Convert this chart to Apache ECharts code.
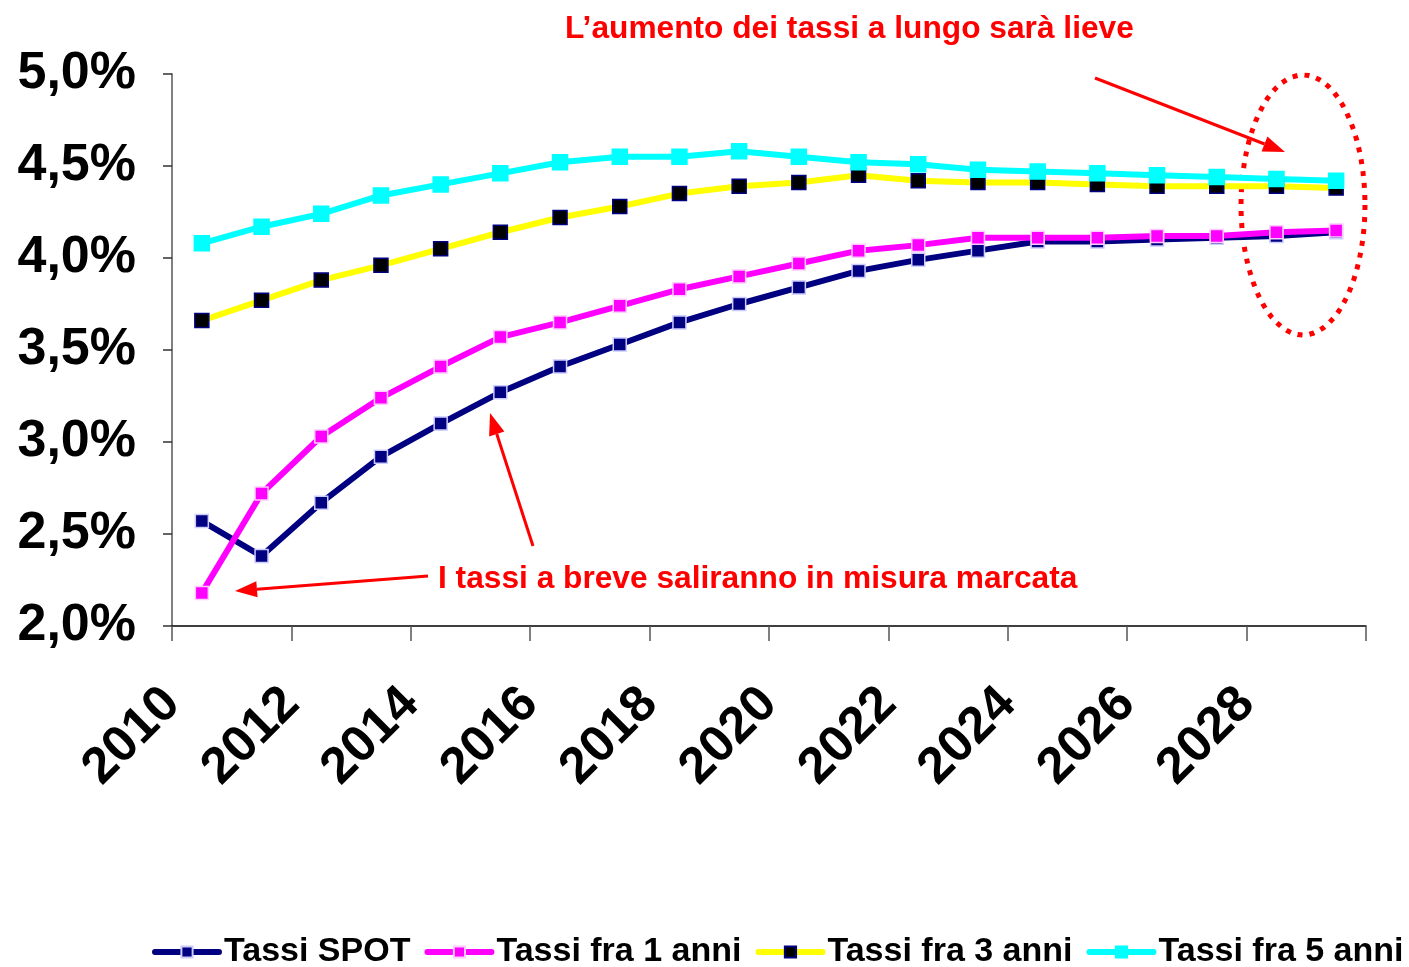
<!DOCTYPE html>
<html>
<head>
<meta charset="utf-8">
<script src="https://cdn.jsdelivr.net/npm/echarts@6/dist/echarts.min.js"></script>
<style>
  html, body { margin: 0; background: #fff; }
  #chart { width: 1409px; height: 967px; }
</style>
</head>
<body>
<div id="chart"></div>
<script>
const years = ['2010', '2011', '2012', '2013', '2014', '2015', '2016', '2017', '2018', '2019',
  '2020', '2021', '2022', '2023', '2024', '2025', '2026', '2027', '2028', '2029'];

const spot = [2.57, 2.38, 2.67, 2.92, 3.10, 3.27, 3.41, 3.53, 3.65, 3.75,
  3.84, 3.93, 3.99, 4.04, 4.09, 4.09, 4.10, 4.11, 4.12, 4.14];
const fra1 = [2.18, 2.72, 3.03, 3.24, 3.41, 3.57, 3.65, 3.74, 3.83, 3.90,
  3.97, 4.04, 4.07, 4.11, 4.11, 4.11, 4.12, 4.12, 4.14, 4.15];
const fra3 = [3.66, 3.77, 3.88, 3.96, 4.05, 4.14, 4.22, 4.28, 4.35, 4.39,
  4.41, 4.45, 4.42, 4.41, 4.41, 4.40, 4.39, 4.39, 4.39, 4.38];
const fra5 = [4.08, 4.17, 4.24, 4.34, 4.40, 4.46, 4.52, 4.55, 4.55, 4.58,
  4.55, 4.52, 4.51, 4.48, 4.47, 4.46, 4.45, 4.44, 4.43, 4.42];

const FONT = '"Liberation Sans", Arial, sans-serif';
const RED = '#FF0000';

const chart = echarts.init(document.getElementById('chart'));

function lineSeries(name, data, color, markColor, markBorder, size) {
  return {
    name,
    type: 'line',
    xAxisIndex: 0,
    data,
    symbol: 'rect',
    symbolSize: size,
    showAllSymbol: true,
    lineStyle: { color, width: 6 },
    itemStyle: { color: markColor, borderColor: markBorder, borderWidth: 1.5 },
    emphasis: { disabled: true },
  };
}

function arrow(x1, y1, x2, y2) {
  const a = Math.atan2(y2 - y1, x2 - x1);
  const L = 22, W = 8;
  const bx = x2 - L * Math.cos(a), by = y2 - L * Math.sin(a);
  return [
    { type: 'line', shape: { x1, y1, x2: bx, y2: by }, style: { stroke: RED, lineWidth: 3 } },
    {
      type: 'polygon',
      shape: { points: [[x2, y2], [bx + W * Math.sin(a), by - W * Math.cos(a)], [bx - W * Math.sin(a), by + W * Math.cos(a)]] },
      style: { fill: RED },
    },
  ];
}

// dotted ellipse around the long end
const ell = [];
for (let k = 0; k <= 72; k++) {
  const t = (k / 72) * Math.PI * 2;
  ell.push([1303 + 62 * Math.cos(t), 205 + 130 * Math.sin(t)]);
}

chart.setOption({
  animation: false,
  backgroundColor: '#fff',
  grid: { left: 172, right: 43, top: 74, bottom: 341 },
  xAxis: [
    { type: 'category', data: years, boundaryGap: true, show: false },
    {
      type: 'value', min: 0, max: 20, interval: 2, position: 'bottom',
      axisLine: { show: true, lineStyle: { color: '#000', width: 1.5 } },
      axisTick: { show: true, length: 15, lineStyle: { color: '#555', width: 1.5 } },
      splitLine: { show: false },
      axisLabel: {
        rotate: 45, margin: 70,
        formatter: (v) => (v < 20 ? years[v] : ''),
        fontFamily: FONT, fontWeight: 'bold', fontSize: 51, color: '#000',
      },
    },
  ],
  yAxis: {
    type: 'value', min: 2, max: 5, interval: 0.5,
    axisLine: { show: true, lineStyle: { color: '#808080', width: 2 } },
    axisTick: { show: true, length: 9, lineStyle: { color: '#333', width: 1.5 } },
    splitLine: { show: false },
    axisLabel: {
      margin: 36,
      formatter: (v) => v.toFixed(1).replace('.', ',') + '%',
      fontFamily: FONT, fontWeight: 'bold', fontSize: 52, color: '#000',
    },
  },
  legend: {
    left: 147, top: 930, width: 1400,
    itemWidth: 64, itemHeight: 14, itemGap: 14,
    lineStyle: { width: 6, cap: 'round' },
    textStyle: { fontFamily: FONT, fontWeight: 'bold', fontSize: 34, color: '#000' },
  },
  series: [
    lineSeries('Tassi SPOT', spot, '#000080', '#000080', '#ccccff', 13),
    lineSeries('Tassi fra 1 anni', fra1, '#FF00FF', '#FF00FF', '#ffccff', 13),
    lineSeries('Tassi fra 3 anni', fra3, '#FFFF00', '#000000', '#000080', 14),
    lineSeries('Tassi fra 5 anni', fra5, '#00FFFF', '#00FFFF', '#00FFFF', 15),
  ],
  graphic: [
    {
      type: 'text', left: 565, top: 13,
      style: { text: 'L\u2019aumento dei tassi a lungo sarà lieve', fill: RED, font: 'bold 31.7px ' + FONT },
    },
    {
      type: 'text', left: 438, top: 563,
      style: { text: 'I tassi a breve saliranno in misura marcata', fill: RED, font: 'bold 31.7px ' + FONT },
    },
    ...arrow(1095, 78, 1285, 152),
    ...arrow(533, 546, 490, 413),
    ...arrow(428, 576, 235, 591),
    {
      type: 'polygon', shape: { points: ell },
      style: { fill: null, stroke: RED, lineWidth: 5, lineDash: [5, 7] },
    },
  ],
});
</script>
</body>
</html>
